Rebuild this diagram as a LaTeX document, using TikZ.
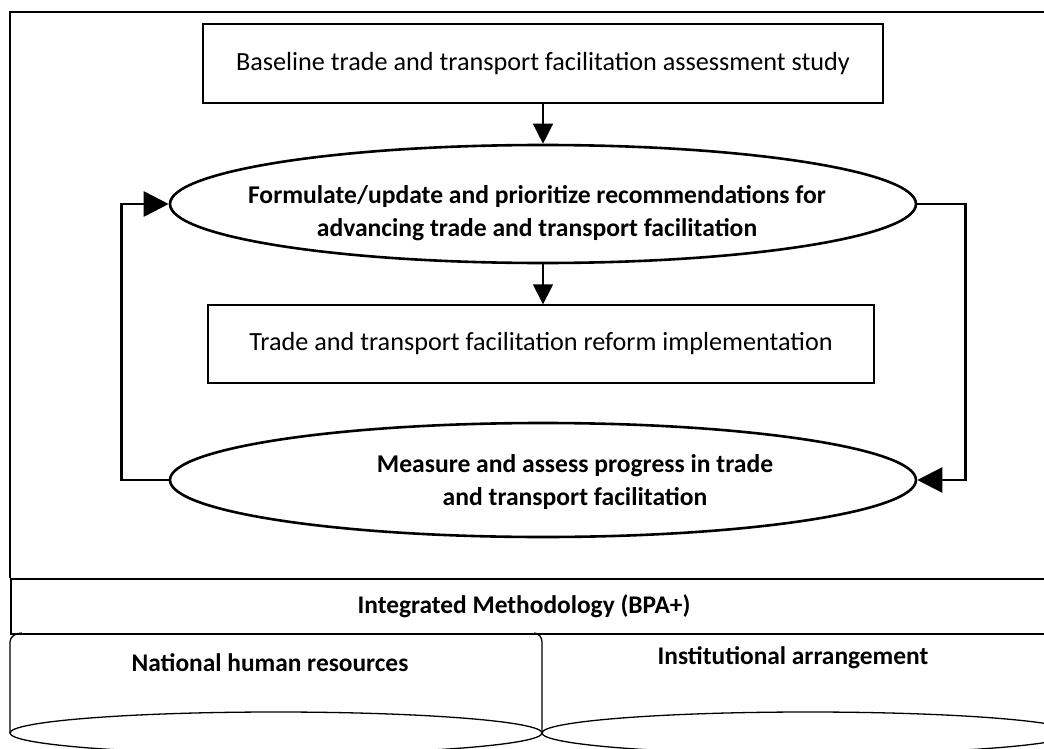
\documentclass[tikz,border=0pt]{standalone}
\usepackage{fontspec}
\setmainfont{Carlito}
\usetikzlibrary{arrows.meta,shapes.geometric}
\begin{document}
\begin{tikzpicture}[x=1pt,y=-1pt,
  stagebox/.style={draw,line width=1.3pt,inner sep=0pt,font=\fontsize{26.2}{30}\selectfont},
  cycleell/.style={draw,ellipse,line width=2.6pt,inner sep=0pt,minimum width=746pt,minimum height=118pt},
  boldtxt/.style={font=\bfseries\fontsize{25.6}{33}\selectfont,align=center},
  bandtxt/.style={font=\bfseries\fontsize{25.4}{30}\selectfont},
  thinarrow/.style={line width=1.3pt,-{Triangle[length=20pt,width=20pt]}},
  looparrow/.style={line width=2.6pt,-{Triangle[length=25pt,width=25pt]}},
  frameline/.style={line width=1.6pt},
  cylline/.style={line width=1.3pt}]
\useasboundingbox (0,0) rectangle (1044,749);
\clip (0,0) rectangle (1044,749);

% outer frame around the cycle
\draw[frameline] (10,578) -- (10,12) -- (1060,12);

% stage boxes
\node[stagebox,minimum width=680pt,minimum height=79pt] (base) at (543,63.5) {Baseline trade and transport facilitation assessment study};
\node[stagebox,minimum width=666pt,minimum height=78pt] (impl) at (541,344) {Trade and transport facilitation reform implementation};

% ellipses of the cycle
\node[cycleell] (form) at (543,204) {};
\node[boldtxt] (formtxt) at (537,213) {Formulate/update and prioritize recommendations for\\advancing trade and transport facilitation};
\node[cycleell,minimum height=114pt] (meas) at (543,480) {};
\node[boldtxt] (meastxt) at (575,482) {Measure and assess progress in trade\\and transport facilitation};

% flow arrows
\draw[thinarrow] (base.south -| form.north) -- (form.north);
\draw[thinarrow] (form.south) -- (impl.north -| form.south);
\draw[looparrow] (meas.west) -- ++(-47,0) |- (form.west);
\draw[looparrow] (form.east) -- ++(48,0) |- (meas.east);

% methodology band
\node[draw,frameline,minimum width=1060pt,minimum height=55pt,anchor=north west,inner sep=0pt] (meth) at (10,578) {};
\node[bandtxt] (methtxt) at (524,606) {Integrated Methodology (BPA+)};

% resource cylinders
\draw[cylline] (10,733) -- (10,642) to[out=90,in=180] (22,633);
\draw[cylline] (542,733) -- (542,642) to[out=90,in=0] (534,633);
\draw[cylline] (276,733) ellipse [x radius=266pt,y radius=21pt];
\draw[cylline] (808,733) ellipse [x radius=266pt,y radius=21pt];
\node[bandtxt] (nhr) at (270,663) {National human resources};
\node[bandtxt] (inst) at (793,658) {Institutional arrangement};
\end{tikzpicture}
\end{document}
